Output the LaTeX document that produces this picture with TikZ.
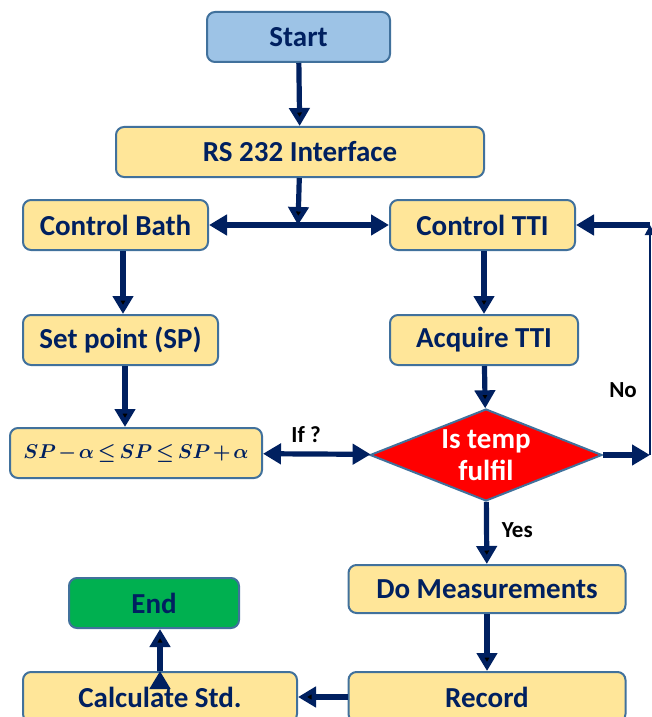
\documentclass[tikz,border=0pt]{standalone}
\usepackage{amsmath}
\usepackage{amssymb}
\usepackage{bm}
\usepackage{fontspec}
\setmainfont{Carlito}
\usetikzlibrary{arrows.meta}
\usetikzlibrary{shapes.geometric}

\definecolor{navy}{HTML}{002060}
\definecolor{boxedge}{HTML}{41719C}
\definecolor{boxfill}{HTML}{FFE699}
\definecolor{startfill}{HTML}{9DC3E6}
\definecolor{endfill}{HTML}{00B050}

\begin{document}
\begin{tikzpicture}[x=0.5pt,y=-0.5pt,
    stepbox/.style={draw=boxedge,fill=boxfill,line width=1pt,rounded corners=4pt,
      minimum height=25pt,inner sep=2pt,text=navy,font=\fontsize{14.5}{17}\selectfont\bfseries},
    arr/.style={draw=navy,line width=2.6pt,-{Triangle[length=9pt,width=10pt]}},
    lbl/.style={font=\fontsize{11.5}{13}\selectfont\bfseries,text=black}]
  \useasboundingbox (0,0) rectangle (652,717);

  \node[stepbox,fill=startfill,minimum width=91.5pt] (start) at (298.5,37) {Start};
  \node[stepbox,minimum width=184pt] (rs) at (300,152) {RS 232 Interface};
  \node[stepbox,minimum width=92.5pt] (bath) at (115.5,225) {Control Bath};
  \node[stepbox,minimum width=92.5pt] (tti) at (482.5,225) {Control TTI};
  \node[stepbox,minimum width=97.5pt] (setp) at (120.5,340) {Set point (SP)};
  \node[stepbox,minimum width=94pt] (acq) at (484,340) {Acquire TTI};
  \node[stepbox,minimum width=126pt,font=\fontsize{10}{13}\selectfont\boldmath] (range) at (136,453)
    {$\thickmuskip=3mu\medmuskip=2mu \bm{SP-\alpha\le SP\le SP+\alpha}$};
  \node[diamond,draw=boxedge,fill=red,line width=1pt,inner sep=0pt,
    minimum width=116pt,minimum height=46pt,
    label={[align=center,text=white,font=\fontsize{14.5}{16}\selectfont\bfseries]center:Is temp\\fulfil}]
    (test) at (486,455) {};
  \node[stepbox,minimum width=138.5pt,minimum height=24pt] (meas) at (487,589) {Do Measurements};
  \node[stepbox,fill=endfill,minimum width=85pt] (stop) at (154,603) {End};
  \node[stepbox,minimum width=137pt] (calc) at (160,697) {Calculate Std.};
  \node[stepbox,minimum width=138.5pt] (rec) at (487,697) {Record};

  \coordinate (split) at (298,225);
  \coordinate (noa) at (650,455);
  \coordinate (nob) at (650,225);

  % main flow
  \path[arr]
    (start) edge (rs)
    (rs) edge (split)
    (bath.south -| 123,0) edge (setp.north -| 123,0)
    (setp.south -| 125,0) edge (range.north -| 125,0)
    (tti.south -| acq.north) edge (acq.north)
    (acq) edge (test)
    (test) edge node [lbl,right=3pt,pos=0.45] {Yes} (meas)
    (meas) edge (rec)
    (rec) edge (calc)
    (calc.north) edge (calc.north |- stop.south);
  \draw[arr,{Triangle[length=9pt,width=10pt]}-{Triangle[length=9pt,width=10pt]}] (bath) -- (tti);
  \draw[arr,{Triangle[length=9pt,width=10pt]}-{Triangle[length=9pt,width=10pt]}] (range) --
    node [lbl,above=1pt,pos=0.4] {If ?} (test);

  % no loop
  \draw[arr] (test) -- (noa);
  \draw[draw=navy,line width=1pt,-{Triangle[length=5pt,width=5pt]}] (noa) -- (nob);
  \draw[arr] (nob) -- (tti);
  \node[lbl] (nolbl) at (623,390) {No};
\end{tikzpicture}
\end{document}
